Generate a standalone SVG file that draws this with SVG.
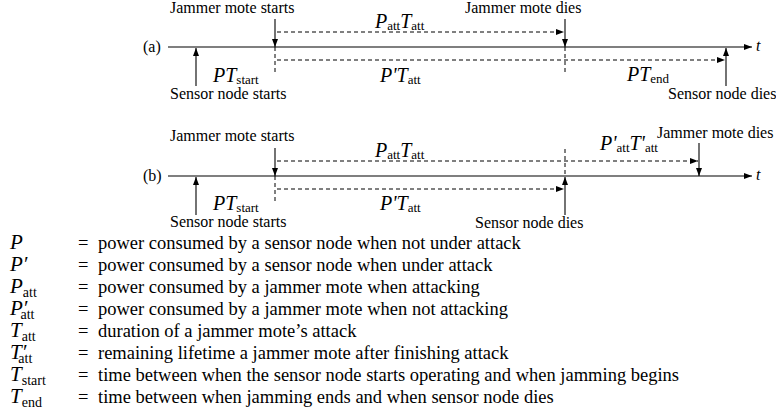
<svg xmlns="http://www.w3.org/2000/svg" width="776" height="417" viewBox="0 0 776 417">
<style>
text{font-family:"Liberation Serif","Times New Roman",serif;fill:#000}
.lb{font-size:16px}
.m{font-size:20px;font-style:italic}
.s{font-size:13px;font-style:normal}
.lg{font-size:18.5px}
.lm{font-size:21px;font-style:italic}
.ls{font-size:14px;font-style:normal}
.ar{stroke:#000;stroke-width:1.1;fill:none;marker-end:url(#ah)}
.da{stroke:#000;stroke-width:1;fill:none;stroke-dasharray:4 3}
.dar{stroke:#000;stroke-width:1;fill:none;stroke-dasharray:4 3;marker-end:url(#ah)}
</style>
<defs>
<marker id="ah" viewBox="0 0 8 6" markerWidth="8" markerHeight="6" refX="8" refY="3" orient="auto" markerUnits="userSpaceOnUse">
<path d="M0,0 L8,3 L0,6 z" fill="#000"/>
</marker>
</defs>

<g id="timeline-a">
<text class="lb" x="143" y="52">(a)</text>
<text class="lb" x="756" y="51" font-style="italic">t</text>
</g>
<g id="connectors-a">
<line class="ar" x1="168" y1="47" x2="752" y2="47"/>
<line class="ar" x1="196" y1="86" x2="196" y2="48"/>
<line class="ar" x1="275" y1="19" x2="275" y2="47"/>
<line class="da" x1="275" y1="47" x2="275" y2="74"/>
<line class="ar" x1="565" y1="19" x2="565" y2="47"/>
<line class="da" x1="565" y1="47" x2="565" y2="74"/>
<line class="ar" x1="726" y1="86" x2="726" y2="48"/>
<line class="dar" x1="277" y1="32" x2="564" y2="32"/>
<line class="dar" x1="277" y1="60" x2="725" y2="60"/>
</g>
<g id="sensor-starts-a"><text class="lb" x="170" y="99">Sensor node starts</text></g>
<g id="jammer-starts-a"><text class="lb" x="170" y="13">Jammer mote starts</text></g>
<g id="jammer-dies-a"><text class="lb" x="465" y="13">Jammer mote dies</text></g>
<g id="sensor-dies-a"><text class="lb" x="668" y="99">Sensor node dies</text></g>
<g id="labels-a">
<text class="m" x="375" y="28">P<tspan class="s" dy="2">att</tspan><tspan dy="-2">T</tspan><tspan class="s" dy="2">att</tspan></text>
<text class="m" x="213" y="82">PT<tspan class="s" dy="1.5">start</tspan></text>
<text class="m" x="380" y="82">P'T<tspan class="s" dy="2">att</tspan></text>
<text class="m" x="627" y="81">PT<tspan class="s" dy="2">end</tspan></text>
</g>

<g id="timeline-b">
<text class="lb" x="143" y="181">(b)</text>
<text class="lb" x="756" y="180" font-style="italic">t</text>
</g>
<g id="connectors-b">
<line class="ar" x1="168" y1="176" x2="752" y2="176"/>
<line class="ar" x1="196" y1="215" x2="196" y2="177"/>
<line class="ar" x1="275" y1="148" x2="275" y2="176"/>
<line class="da" x1="275" y1="176" x2="275" y2="203"/>
<line class="da" x1="565" y1="149" x2="565" y2="176"/>
<line class="ar" x1="565" y1="215" x2="565" y2="177"/>
<line class="ar" x1="699" y1="143" x2="699" y2="176"/>
<line class="dar" x1="277" y1="161" x2="698" y2="161"/>
<line class="dar" x1="277" y1="189" x2="564" y2="189"/>
</g>
<g id="sensor-starts-b"><text class="lb" x="170" y="227">Sensor node starts</text></g>
<g id="jammer-starts-b"><text class="lb" x="170" y="141">Jammer mote starts</text></g>
<g id="jammer-dies-b"><text class="lb" x="657" y="138">Jammer mote dies</text></g>
<g id="sensor-dies-b"><text class="lb" x="475" y="228">Sensor node dies</text></g>
<g id="labels-b">
<text class="m" x="375" y="157">P<tspan class="s" dy="2">att</tspan><tspan dy="-2">T</tspan><tspan class="s" dy="2">att</tspan></text>
<text class="m" x="600" y="150">P'<tspan class="s" dy="2">att</tspan><tspan dy="-2">T'</tspan><tspan class="s" dy="2">att</tspan></text>
<text class="m" x="213" y="210">PT<tspan class="s" dy="1.5">start</tspan></text>
<text class="m" x="380" y="210">P'T<tspan class="s" dy="2">att</tspan></text>
</g>

<g id="legend">
<text class="lm" x="10" y="249">P</text>
<text class="lm" x="10" y="271">P′</text>
<text class="lm" x="10" y="293">P<tspan class="ls" dy="4">att</tspan></text>
<text class="lm" x="10" y="315">P′<tspan class="ls" dx="-7" dy="4">att</tspan></text>
<text class="lm" x="10" y="337">T<tspan class="ls" dy="4">att</tspan></text>
<text class="lm" x="10" y="359">T′<tspan class="ls" dx="-8" dy="4">att</tspan></text>
<text class="lm" x="10" y="381">T<tspan class="ls" dy="4">start</tspan></text>
<text class="lm" x="10" y="403">T<tspan class="ls" dy="4">end</tspan></text>
<text class="lg" x="78" y="249">=</text>
<text class="lg" x="78" y="271">=</text>
<text class="lg" x="78" y="293">=</text>
<text class="lg" x="78" y="315">=</text>
<text class="lg" x="78" y="337">=</text>
<text class="lg" x="78" y="359">=</text>
<text class="lg" x="78" y="381">=</text>
<text class="lg" x="78" y="403">=</text>
<text class="lg" x="98" y="249">power consumed by a sensor node when not under attack</text>
<text class="lg" x="98" y="271">power consumed by a sensor node when under attack</text>
<text class="lg" x="98" y="293">power consumed by a jammer mote when attacking</text>
<text class="lg" x="98" y="315">power consumed by a jammer mote when not attacking</text>
<text class="lg" x="98" y="337">duration of a jammer mote’s attack</text>
<text class="lg" x="98" y="359">remaining lifetime a jammer mote after finishing attack</text>
<text class="lg" x="98" y="381">time between when the sensor node starts operating and when jamming begins</text>
<text class="lg" x="98" y="403">time between when jamming ends and when sensor node dies</text>
</g>
</svg>
